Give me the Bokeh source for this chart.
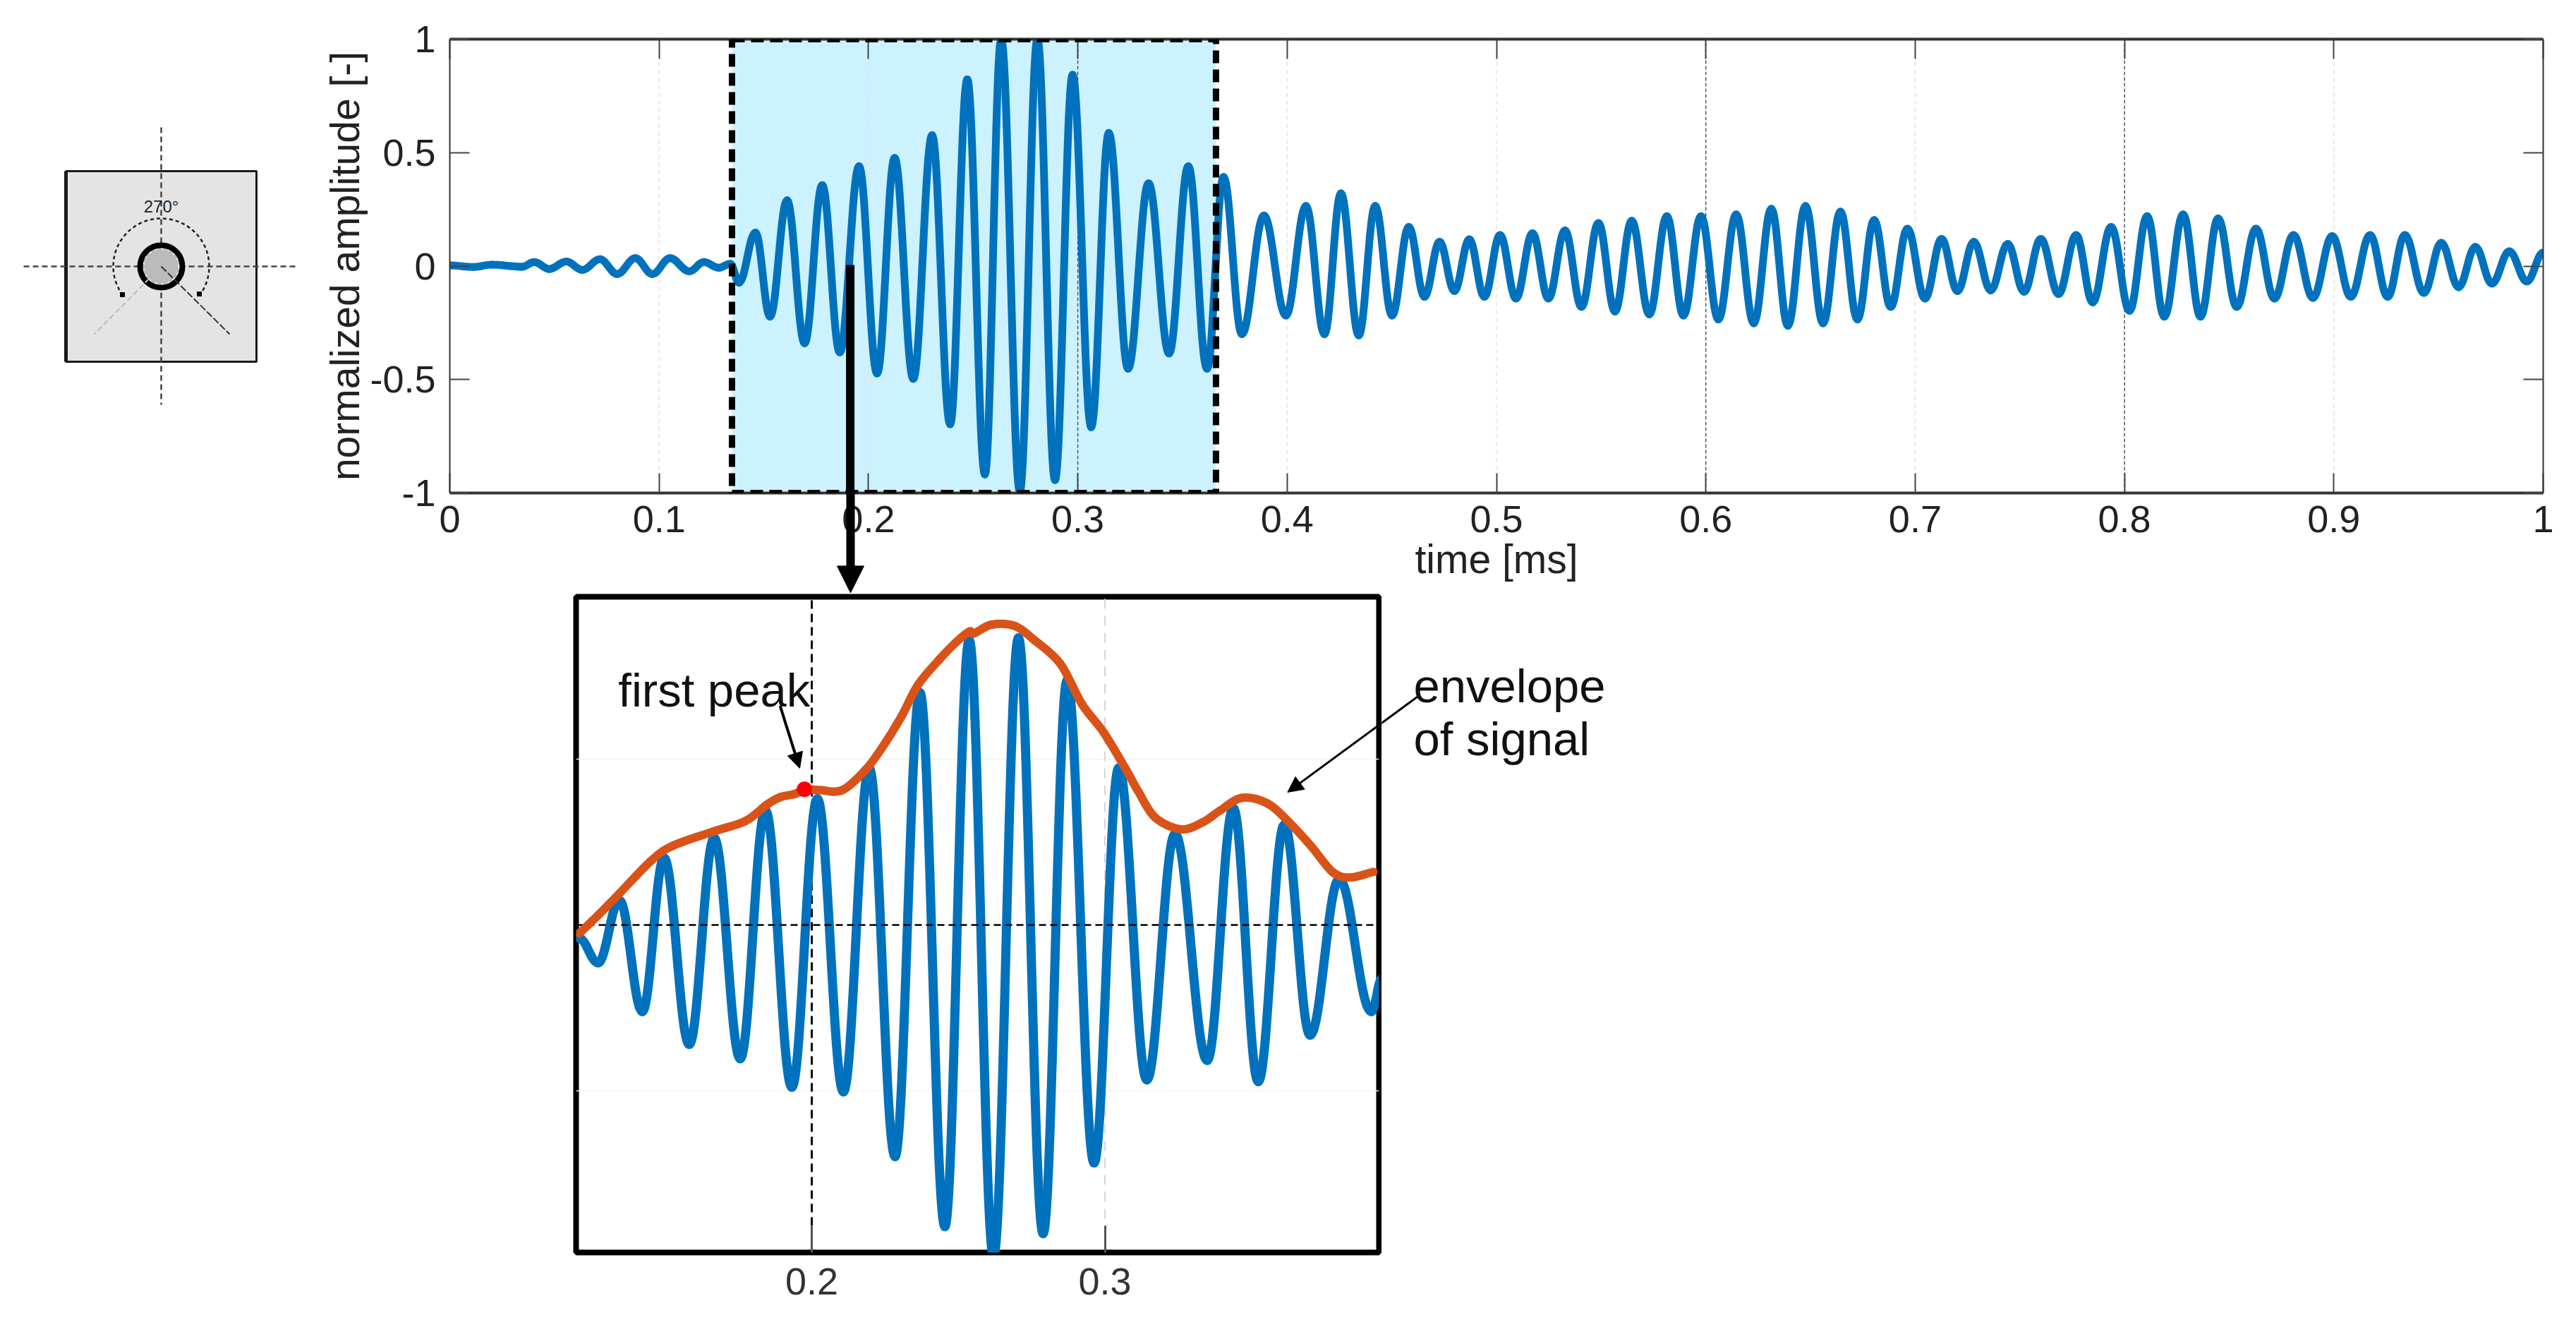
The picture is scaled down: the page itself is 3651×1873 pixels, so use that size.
import numpy as np
from bokeh.core.properties import value
from bokeh.embed import file_html
from bokeh.layouts import column, row
from bokeh.models import Arrow, BoxAnnotation, FixedTicker, Label, LinearAxis, NormalHead, Range1d
from bokeh.plotting import figure
from bokeh.resources import INLINE

# main trace at its peaks and troughs
time_main = [0, 0.0115, 0.0200, 0.0345, 0.0404, 0.0474, 0.0557, 0.0633, 0.0717, 0.0800, 0.0886, 0.0968,
             0.1052, 0.1144, 0.1214, 0.1284, 0.1340, 0.1382, 0.1460, 0.1530, 0.1611, 0.1695, 0.1779, 0.1863,
             0.1955, 0.2041, 0.2125, 0.2214, 0.2304, 0.2390, 0.2472, 0.2556, 0.2634, 0.2723, 0.2807, 0.2891,
             0.2975, 0.3064, 0.3148, 0.3240, 0.3338, 0.3436, 0.3528, 0.3617, 0.3696, 0.3784, 0.3889, 0.3994,
             0.4090, 0.4178, 0.4257, 0.4342, 0.4421, 0.4501, 0.4581, 0.4656, 0.4728, 0.4799, 0.4870, 0.4942,
             0.5017, 0.5093, 0.5172, 0.5248, 0.5327, 0.5406, 0.5487, 0.5566, 0.5646, 0.5730, 0.5814, 0.5893,
             0.5977, 0.6060, 0.6145, 0.6229, 0.6313, 0.6392, 0.6476, 0.6560, 0.6643, 0.6724, 0.6804, 0.6883,
             0.6963, 0.7047, 0.7126, 0.7202, 0.7280, 0.7361, 0.7442, 0.7520, 0.7600, 0.7685, 0.7769, 0.7848,
             0.7936, 0.8024, 0.8108, 0.8190, 0.8280, 0.8363, 0.8447, 0.8536, 0.8628, 0.8716, 0.8807, 0.8900,
             0.8992, 0.9081, 0.9173, 0.9257, 0.9339, 0.9430, 0.9513, 0.9596, 0.9676, 0.9755, 0.9838, 0.9922, 1.0]
amp_main = [0.003, -0.004, 0.006, -0.003, 0.018, -0.013, 0.020, -0.017, 0.030, -0.035, 0.035, -0.035,
            0.035, -0.023, 0.018, -0.007, 0.010, -0.073, 0.148, -0.223, 0.290, -0.340, 0.357, -0.380,
            0.440, -0.473, 0.477, -0.497, 0.577, -0.697, 0.823, -0.918, 1.0, -0.993, 1.0, -0.943,
            0.843, -0.710, 0.587, -0.452, 0.365, -0.385, 0.440, -0.452, 0.393, -0.300, 0.223, -0.218,
            0.265, -0.300, 0.320, -0.305, 0.265, -0.218, 0.173, -0.135, 0.107, -0.110, 0.118, -0.135,
            0.137, -0.143, 0.145, -0.143, 0.157, -0.180, 0.190, -0.200, 0.200, -0.213, 0.220, -0.218,
            0.220, -0.235, 0.228, -0.252, 0.253, -0.263, 0.265, -0.252, 0.240, -0.235, 0.203, -0.180,
            0.165, -0.143, 0.120, -0.110, 0.107, -0.107, 0.098, -0.113, 0.120, -0.123, 0.137, -0.160,
            0.173, -0.197, 0.220, -0.223, 0.228, -0.223, 0.210, -0.180, 0.165, -0.143, 0.137, -0.140,
            0.132, -0.135, 0.137, -0.135, 0.137, -0.118, 0.103, -0.093, 0.085, -0.077, 0.065, -0.068, 0.060]

x_ticks = [0, 0.1, 0.2, 0.3, 0.4, 0.5, 0.6, 0.7, 0.8, 0.9, 1]
x_labels = ["0", "0.1", "0.2", "0.3", "0.4", "0.5", "0.6", "0.7", "0.8", "0.9", "1"]
y_ticks = [-1, -0.5, 0, 0.5, 1]
y_labels = ["-1", "-0.5", "0", "0.5", "1"]
strong_grid = [0.3, 0.6, 0.8]
faint_grid = [0.1, 0.2, 0.4, 0.5, 0.7, 0.9]
window_start, window_end = 0.1348, 0.3660

# zoomed view of the same window
time_inset = [0.1206, 0.1271, 0.1344, 0.1422, 0.1496, 0.1582, 0.1667, 0.1756, 0.1842, 0.1932, 0.2019, 0.2108,
              0.2196, 0.2284, 0.2369, 0.2454, 0.2537, 0.2620, 0.2705, 0.2789, 0.2871, 0.2963, 0.3047, 0.3143,
              0.3239, 0.3349, 0.3438, 0.3523, 0.3612, 0.3700, 0.3799, 0.3909, 0.3946]
amp_inset = [-0.040, -0.114, 0.074, -0.261, 0.202, -0.360, 0.262, -0.403, 0.345, -0.489, 0.380, -0.503,
             0.473, -0.698, 0.700, -0.909, 0.858, -1.0, 0.865, -0.930, 0.737, -0.717, 0.473, -0.467,
             0.274, -0.408, 0.352, -0.472, 0.302, -0.332, 0.138, -0.261, -0.160]
time_env = [0.1206, 0.1271, 0.1344, 0.1450, 0.1524, 0.1662, 0.1773, 0.1846, 0.1892, 0.1943, 0.1975, 0.2031,
            0.2104, 0.2182, 0.2242, 0.2307, 0.2362, 0.2436, 0.2491, 0.2537, 0.2554, 0.2613, 0.2693, 0.2760,
            0.2848, 0.2922, 0.2996, 0.3069, 0.3114, 0.3172, 0.3261, 0.3335, 0.3393, 0.3467, 0.3555, 0.3629,
            0.3703, 0.3776, 0.3836, 0.3916]
amp_env = [-0.026, 0.029, 0.095, 0.192, 0.238, 0.281, 0.313, 0.362, 0.385, 0.395, 0.409, 0.406,
           0.406, 0.466, 0.537, 0.630, 0.723, 0.801, 0.851, 0.884, 0.879, 0.905, 0.901, 0.858,
           0.787, 0.665, 0.580, 0.473, 0.402, 0.323, 0.288, 0.310, 0.345, 0.383, 0.366, 0.309,
           0.238, 0.160, 0.143, 0.160]
first_peak_time, first_peak_amp = 0.1975, 0.409
inset_ticks = [0.2, 0.3]
inset_labels = ["0.2", "0.3"]

# specimen sketch, in sketch units
plate_half = 135
ring_radius = 30
core_radius = 25
arc_radius = 68
cross_x = [-195, 192]
cross_y = [197, -196]
notch_x = [-95, 97]
notch_y = [-96, -96]

BLUE = "#0072BD"
ORANGE = "#D95319"
FONT = "Liberation Sans"


def smooth(fig, t, a, color, width):
    # draws the read points as one curve, flat at each peak and trough
    t = np.array(t)
    a = np.array(a)
    dt = np.diff(t)
    fig.bezier(x0=t[:-1], y0=a[:-1], x1=t[1:], y1=a[1:],
               cx0=t[:-1] + 0.38 * dt, cy0=a[:-1], cx1=t[1:] - 0.38 * dt, cy1=a[1:],
               line_color=color, line_width=width, line_cap="round")


def rounded(fig, t, a, color, width):
    # same idea for the envelope, but passing through the points with their local slope
    t = np.array(t)
    a = np.array(a)
    mt = np.gradient(t)
    ma = np.gradient(a)
    fig.bezier(x0=t[:-1], y0=a[:-1], x1=t[1:], y1=a[1:],
               cx0=t[:-1] + mt[:-1] / 3, cy0=a[:-1] + ma[:-1] / 3,
               cx1=t[1:] - mt[1:] / 3, cy1=a[1:] - ma[1:] / 3,
               line_color=color, line_width=width, line_cap="round")


# ---- sketch ----
sketch = figure(width=448, height=841, x_range=(-228, 220), y_range=(-464, 377), frame_align=False,
                output_backend="svg", toolbar_location=None, min_border=0, outline_line_color=None)
sketch.axis.visible = False
sketch.grid.visible = False
sketch.quad(left=[-plate_half], right=[plate_half], bottom=[-plate_half], top=[plate_half],
            fill_color="#E4E4E4", line_color="#1a1a1a", line_width=3)
sketch.segment(x0=[-plate_half], y0=[-plate_half], x1=[-plate_half], y1=[plate_half], line_color="#1a1a1a", line_width=5)
sketch.arc(x=[0], y=[0], radius=arc_radius, start_angle=-0.66, end_angle=3.80, radius_units="data",
           line_color="#222222", line_width=2.5, line_dash="5 4")
sketch.segment(x0=[cross_x[0], 0], y0=[0, cross_y[0]], x1=[cross_x[1], 0], y1=[0, cross_y[1]],
               line_color="#444444", line_width=2.5, line_dash="8 5")
sketch.circle(x=[0], y=[0], radius=ring_radius, fill_color="#BBBBBB", line_color="black", line_width=8)
sketch.circle(x=[0], y=[0], radius=core_radius, fill_color="#BBBBBB", line_color="white", line_width=1.5, line_dash="3 6")
sketch.segment(x0=[0], y0=[0], x1=[notch_x[0]], y1=[notch_y[0]], line_color="#BBBBBB", line_width=2, line_dash="8 4")
sketch.segment(x0=[0], y0=[0], x1=[notch_x[1]], y1=[notch_y[1]], line_color="#333333", line_width=2, line_dash="10 3")
sketch.scatter(x=[-55, 54], y=[-40, -39], size=7, marker="square", fill_color="black", line_color=None)
sketch.add_layout(Label(x=0, y=85, text="270°", text_font=FONT, text_font_size="24px", text_color="#222222",
                        text_align="center", text_baseline="middle"))

# ---- main signal ----
p = figure(width=3203, height=841, x_range=Range1d(0, 1), y_range=Range1d(-1, 1), frame_align=False,
           output_backend="svg", toolbar_location=None,
           min_border_left=189, min_border_right=47, min_border_top=55, min_border_bottom=143)
p.grid.visible = False
p.outline_line_color = None
p.xaxis.ticker = FixedTicker(ticks=x_ticks)
p.yaxis.ticker = FixedTicker(ticks=y_ticks)
p.xaxis.major_label_overrides = dict(zip(x_ticks, x_labels))
p.yaxis.major_label_overrides = dict(zip(y_ticks, y_labels))
p.xaxis.axis_label = "time [ms]"
p.yaxis.axis_label = "normalized amplitude [-]"
p.axis.axis_label_text_font = FONT
p.axis.axis_label_text_font_style = "normal"
p.axis.axis_label_text_font_size = "57px"
p.axis.axis_label_text_color = "#222222"
p.axis.major_label_text_font = FONT
p.axis.major_label_text_font_size = "54px"
p.axis.major_label_text_color = "#222222"
p.xaxis.axis_label_standoff = 3
p.yaxis.axis_label_standoff = 0
p.xaxis.major_label_standoff = 18
p.yaxis.major_label_standoff = 20
p.axis.major_tick_in = 28
p.axis.major_tick_out = 0
p.axis.minor_tick_line_color = None
p.axis.major_tick_line_color = "#444444"
p.axis.major_tick_line_width = 2
p.xaxis.axis_line_width = 4
p.xaxis.axis_line_color = "#333333"
p.yaxis.axis_line_width = 2
p.yaxis.axis_line_color = "#333333"

top_axis = LinearAxis(ticker=FixedTicker(ticks=x_ticks), major_label_overrides={v: "" for v in x_ticks},
                      major_tick_in=28, major_tick_out=0, minor_tick_line_color=None,
                      major_tick_line_color="#444444", major_tick_line_width=2,
                      axis_line_width=4, axis_line_color="#333333")
right_axis = LinearAxis(ticker=FixedTicker(ticks=y_ticks), major_label_overrides={v: "" for v in y_ticks},
                        major_tick_in=28, major_tick_out=0, minor_tick_line_color=None,
                        major_tick_line_color="#444444", major_tick_line_width=2,
                        axis_line_width=2, axis_line_color="#333333")
p.add_layout(top_axis, "above")
p.add_layout(right_axis, "right")

p.quad(left=[window_start], right=[window_end], bottom=[-1], top=[1], fill_color="#CCF2FF", line_color=None)
p.segment(x0=faint_grid, y0=[-1] * len(faint_grid), x1=faint_grid, y1=[1] * len(faint_grid),
          line_color="#E2E2E2", line_width=1.5, line_dash="6 5")
p.segment(x0=strong_grid, y0=[-1] * len(strong_grid), x1=strong_grid, y1=[1] * len(strong_grid),
          line_color="#555555", line_width=1.5, line_dash="5 3")
smooth(p, time_main, amp_main, BLUE, 11)
p.add_layout(BoxAnnotation(left=window_start, right=window_end, bottom=-1, top=1, fill_color=None, fill_alpha=0,
                           line_color="black", line_alpha=1, line_width=9, line_dash=[18, 9], level="overlay"))
arrow_x = 0.1913
p.segment(x0=[arrow_x], y0=[0.005], x1=[arrow_x], y1=[-1], line_color="black", line_width=12)

# the arrow has to leave p's frame, so its lower part is a small see-through figure laid over the gap
gap = figure(width=60, height=143, x_range=Range1d(arrow_x - 0.01011, arrow_x + 0.01011), y_range=Range1d(-1.445, -1),
             frame_align=False, output_backend="svg", toolbar_location=None, min_border=0, outline_line_color=None,
             background_fill_color=None, border_fill_color=None, margin=(-143, 0, 0, 1175))
gap.axis.visible = False
gap.grid.visible = False
gap.add_layout(Arrow(end=NormalHead(size=38, fill_color="black", line_color="black"), x_start=arrow_x, y_start=-1,
                     x_end=arrow_x, y_end=-1.44, line_color="black", line_width=12))

# ---- zoomed view ----
q = figure(width=1958, height=1024, x_range=Range1d(0.1196, 0.3935), y_range=Range1d(-0.987, 0.989), frame_align=False,
           output_backend="svg", toolbar_location=None,
           min_border_left=816, min_border_right=4, min_border_top=4, min_border_bottom=91)
q.grid.visible = False
q.yaxis.visible = False
q.outline_line_color = "black"
q.outline_line_width = 8
q.xaxis.ticker = FixedTicker(ticks=inset_ticks)
q.xaxis.major_label_overrides = dict(zip(inset_ticks, inset_labels))
q.xaxis.major_label_text_font = FONT
q.xaxis.major_label_text_font_size = "54px"
q.xaxis.major_label_text_color = "#333333"
q.xaxis.major_label_standoff = 22
q.xaxis.major_tick_in = 38
q.xaxis.major_tick_out = 0
q.xaxis.minor_tick_line_color = None
q.xaxis.major_tick_line_color = "#555555"
q.xaxis.major_tick_line_width = 3
q.xaxis.axis_line_color = None

q.segment(x0=[0.1196, 0.1196], y0=[0.5, -0.5], x1=[0.3935, 0.3935], y1=[0.5, -0.5], line_color="#F2F2F2", line_width=1.5)
q.segment(x0=[0.3], y0=[-0.987], x1=[0.3], y1=[0.989], line_color="#D5D5D5", line_width=2, line_dash="14 10")
q.segment(x0=[0.2], y0=[-0.987], x1=[0.2], y1=[0.989], line_color="black", line_width=3, line_dash="12 7")
smooth(q, time_inset, amp_inset, BLUE, 13)
q.segment(x0=[0.1196], y0=[0], x1=[0.3935], y1=[0], line_color="black", line_width=2.5, line_dash="10 6")
rounded(q, time_env, amp_env, ORANGE, 12)
q.scatter([first_peak_time], [first_peak_amp], size=22, marker="circle", fill_color="#FF0000", line_color=None)

q.add_layout(Label(x=0.134, y=0.708, text="first peak", text_font=FONT, text_font_size="67px", text_color="#111111",
                   text_baseline="alphabetic"))
q.add_layout(Arrow(end=NormalHead(size=22, fill_color="black", line_color="black"), x_start=0.1892, y_start=0.66,
                   x_end=0.1959, y_end=0.472, line_color="black", line_width=4))
q.add_layout(Arrow(end=NormalHead(size=22, fill_color="black", line_color="black"), x_start=0.4065, y_start=0.687,
                   x_end=0.3623, y_end=0.40, line_color="black", line_width=3))

# ---- labels right of the zoomed view, same scale as q ----
side = figure(width=402, height=1024, x_range=Range1d(0.39446, 0.49121), y_range=Range1d(-0.987, 0.989), frame_align=False,
              output_backend="svg", toolbar_location=None, outline_line_color=None,
              min_border_left=0, min_border_right=0, min_border_top=4, min_border_bottom=91)
side.axis.visible = False
side.grid.visible = False
side.segment(x0=[0.4065], y0=[0.687], x1=[0.3623], y1=[0.40], line_color="black", line_width=3)
side.text(x=[0.4053], y=[0.721], text=["envelope"], text_font=value(FONT), text_font_size="67px", text_color="#111111",
          text_baseline="alphabetic")
side.text(x=[0.4053], y=[0.562], text=["of signal"], text_font=value(FONT), text_font_size="67px", text_color="#111111",
          text_baseline="alphabetic")

page = column(row(sketch, p), gap, row(q, side))
open("out.html", "w").write(file_html(page, INLINE))
